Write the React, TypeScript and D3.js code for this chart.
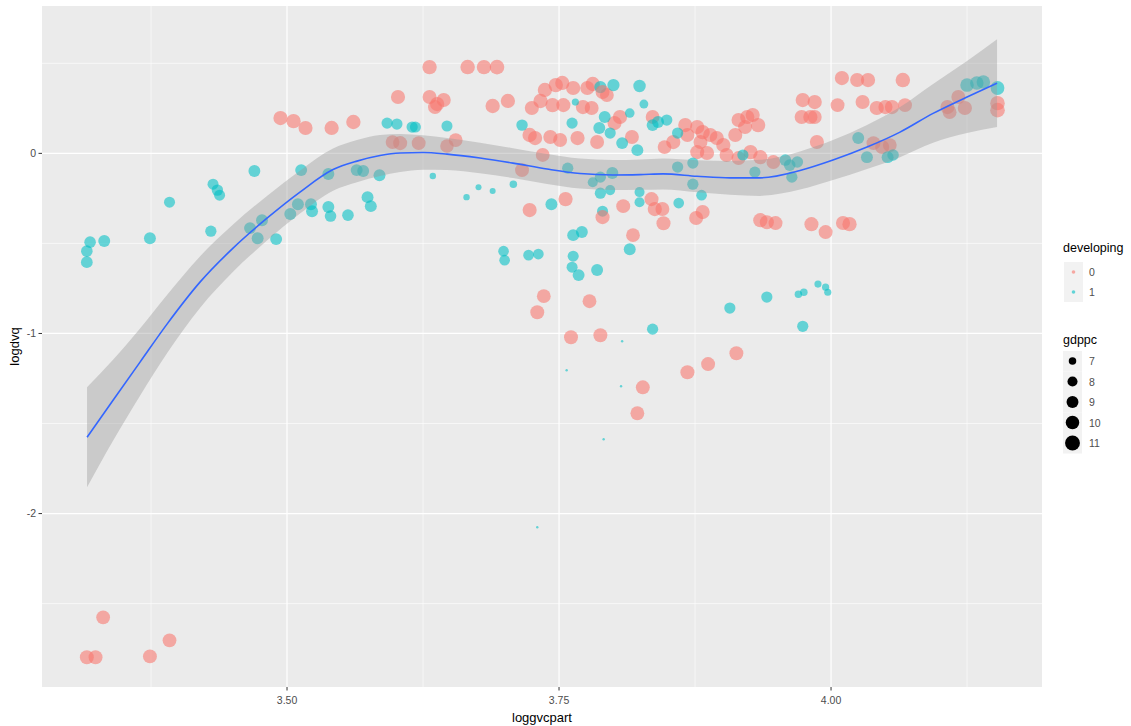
import React from "react";
import * as d3 from "d3";

// ---------- data ----------
// [loggvcpart, logdvq, gdppc]
const developing0: [number, number, number][] = [
  [3.316, -2.798, 10.3], [3.324, -2.798, 10.3], [3.331, -2.576, 10.2], [3.374, -2.793, 10.3], [3.392, -2.704, 10.2],
  [3.494, 0.196, 10.5], [3.506, 0.179, 10.5], [3.517, 0.141, 10.4], [3.541, 0.141, 10.5], [3.561, 0.174, 10.6],
  [3.597, 0.063, 10.2], [3.604, 0.057, 10.4], [3.621, 0.057, 10.3], [3.647, 0.041, 10.0], [3.655, 0.074, 10.2],
  [3.602, 0.313, 10.4], [3.631, 0.479, 10.6], [3.666, 0.479, 10.7], [3.681, 0.479, 10.6], [3.693, 0.479, 10.8],
  [3.631, 0.313, 10.3], [3.638, 0.274, 10.5], [3.644, 0.296, 10.4], [3.636, 0.257, 10.3], [3.689, 0.263, 10.6],
  [3.703, 0.291, 10.5], [3.716, -0.093, 10.3], [3.723, -0.315, 10.4], [3.756, -0.254, 10.5], [3.735, -0.009, 10.2],
  [3.737, 0.352, 10.5], [3.747, 0.379, 10.6], [3.753, 0.391, 10.5], [3.763, 0.363, 10.5], [3.776, 0.363, 10.4],
  [3.781, 0.385, 10.6], [3.725, 0.252, 10.4], [3.733, 0.291, 10.6], [3.744, 0.268, 10.5], [3.754, 0.268, 10.4],
  [3.772, 0.257, 10.5], [3.780, 0.252, 10.3], [3.723, 0.102, 10.6], [3.728, 0.085, 10.5], [3.742, 0.091, 10.4],
  [3.751, 0.074, 10.3], [3.767, 0.085, 10.5], [3.785, 0.063, 10.3], [3.794, 0.324, 10.2], [3.801, 0.168, 10.4],
  [3.806, 0.202, 10.5], [3.817, 0.091, 10.3], [3.836, 0.202, 10.2], [3.847, 0.035, 10.2], [3.855, 0.063, 10.5],
  [3.866, 0.157, 10.4], [3.877, 0.146, 10.5], [3.882, 0.118, 10.6], [3.889, 0.102, 10.5], [3.895, 0.085, 10.4],
  [3.901, 0.046, 10.5], [3.880, 0.063, 10.3], [3.877, 0.007, 10.4], [3.886, 0.002, 10.5], [3.904, -0.009, 10.4],
  [3.868, 0.102, 10.3], [3.915, 0.185, 10.4], [3.923, 0.202, 10.5], [3.928, 0.213, 10.4], [3.933, 0.157, 10.6],
  [3.921, 0.146, 10.3], [3.912, 0.102, 10.4], [3.915, -0.026, 10.3], [3.926, 0.007, 10.5], [3.935, -0.021, 10.4],
  [3.947, -0.048, 10.2], [4.010, 0.418, 10.5], [4.024, 0.407, 10.4], [4.034, 0.407, 10.5], [4.066, 0.407, 10.7],
  [3.974, 0.296, 10.5], [3.985, 0.285, 10.5], [4.006, 0.268, 10.3], [4.029, 0.285, 10.4], [4.042, 0.252, 10.5],
  [4.050, 0.257, 10.4], [4.056, 0.257, 10.5], [4.068, 0.268, 10.3], [3.973, 0.202, 10.4], [3.981, 0.202, 10.5],
  [3.985, 0.202, 10.3], [3.987, 0.063, 10.4], [4.039, 0.057, 10.3], [4.047, 0.035, 10.4], [4.054, 0.046, 10.2],
  [4.107, 0.257, 10.4], [4.117, 0.313, 10.3], [4.123, 0.252, 10.5], [4.109, 0.229, 10.2], [4.153, 0.240, 10.8],
  [4.153, 0.279, 10.7], [3.790, -0.354, 10.4], [3.809, -0.293, 10.3], [3.818, -0.454, 10.2], [3.835, -0.254, 10.4],
  [3.838, -0.309, 10.5], [3.845, -0.309, 10.3], [3.846, -0.388, 10.4], [3.876, -0.359, 10.3], [3.882, -0.326, 10.4],
  [3.935, -0.371, 10.5], [3.941, -0.382, 10.4], [3.949, -0.387, 10.3], [3.982, -0.393, 10.4], [3.995, -0.437, 10.3],
  [4.011, -0.387, 10.4], [4.017, -0.393, 10.5], [3.778, -0.821, 10.2], [3.761, -1.021, 10.3], [3.788, -1.010, 10.3],
  [3.736, -0.793, 10.2], [3.730, -0.882, 10.3], [3.827, -1.299, 10.3], [3.822, -1.443, 10.2], [3.868, -1.215, 10.4],
  [3.887, -1.170, 10.3], [3.913, -1.110, 10.3], [3.790, 0.341, 10.3],
];

const developing1: [number, number, number][] = [
  [3.319, -0.493, 8.8], [3.316, -0.543, 8.8], [3.316, -0.604, 8.9], [3.332, -0.487, 9.0], [3.374, -0.471, 9.0],
  [3.392, -0.271, 8.5], [3.430, -0.432, 8.6], [3.432, -0.171, 8.5], [3.436, -0.204, 8.7], [3.438, -0.232, 8.5],
  [3.470, -0.098, 9.0], [3.466, -0.415, 9.0], [3.477, -0.371, 9.0], [3.473, -0.471, 9.0], [3.490, -0.476, 9.0],
  [3.513, -0.093, 9.0], [3.538, -0.115, 9.0], [3.503, -0.337, 9.0], [3.510, -0.282, 9.0], [3.522, -0.282, 9.0],
  [3.523, -0.321, 9.0], [3.538, -0.298, 9.0], [3.540, -0.348, 8.8], [3.556, -0.343, 8.8], [3.564, -0.093, 9.0],
  [3.570, -0.098, 9.0], [3.574, -0.243, 9.0], [3.577, -0.293, 9.0], [3.585, -0.121, 9.0], [3.592, 0.168, 8.6],
  [3.601, 0.163, 8.6], [3.615, 0.146, 8.6], [3.618, 0.146, 8.5], [3.647, 0.152, 8.5], [3.634, -0.126, 6.7],
  [3.665, -0.243, 6.7], [3.676, -0.188, 6.6], [3.689, -0.209, 6.6], [3.708, -0.171, 7.0], [3.716, 0.157, 8.7],
  [3.743, -0.282, 9.0], [3.763, -0.454, 9.0], [3.771, -0.437, 9.0], [3.699, -0.543, 8.3], [3.700, -0.593, 8.3],
  [3.722, -0.565, 8.3], [3.731, -0.559, 8.3], [3.763, -0.571, 8.5], [3.762, -0.632, 8.5], [3.768, -0.676, 9.0],
  [3.785, -0.648, 9.0], [3.762, 0.168, 8.6], [3.765, 0.285, 6.9], [3.788, 0.368, 9.2], [3.800, 0.379, 9.2],
  [3.824, 0.374, 9.3], [3.828, 0.274, 7.5], [3.792, 0.202, 9.0], [3.787, 0.141, 9.0], [3.797, 0.113, 8.6],
  [3.808, 0.057, 9.0], [3.822, 0.018, 9.0], [3.815, 0.224, 7.8], [3.836, 0.157, 9.0], [3.841, 0.174, 9.0],
  [3.849, 0.185, 8.6], [3.859, 0.113, 8.6], [3.758, -0.082, 8.6], [3.781, -0.160, 8.0], [3.788, -0.221, 8.6],
  [3.797, -0.204, 8.0], [3.799, -0.109, 9.0], [3.788, -0.132, 8.6], [3.824, -0.215, 8.0], [3.824, -0.271, 8.0],
  [3.859, -0.076, 8.6], [3.860, -0.276, 8.3], [3.873, -0.054, 8.6], [3.873, -0.171, 8.6], [3.881, -0.232, 8.3],
  [3.919, -0.009, 8.6], [3.930, -0.104, 8.6], [3.790, -0.321, 8.5], [3.815, -0.532, 9.0], [3.836, -0.976, 8.6],
  [3.907, -0.859, 8.6], [3.941, -0.798, 8.6], [3.974, -0.960, 8.6], [3.970, -0.782, 7.0], [3.975, -0.771, 7.0],
  [3.988, -0.726, 6.9], [3.995, -0.743, 6.9], [3.997, -0.771, 6.9], [3.958, -0.037, 8.8], [3.962, -0.065, 8.8],
  [3.969, -0.048, 8.8], [3.964, -0.132, 8.6], [4.025, 0.085, 9.0], [4.033, -0.021, 9.0], [4.052, -0.021, 9.0],
  [4.057, -0.009, 8.8], [4.125, 0.379, 10.0], [4.134, 0.391, 10.0], [4.140, 0.396, 10.0], [4.153, 0.363, 10.2],
  [3.757, -1.204, 6.2], [3.807, -1.293, 6.2], [3.791, -1.587, 6.2], [3.730, -2.076, 6.2], [3.808, -1.043, 6.2],
];

// loess fit
const smoothX = [3.3162, 3.3401, 3.3649, 3.3897, 3.42, 3.4504, 3.4816, 3.5119, 3.5423, 3.5643, 3.5855, 3.6039, 3.625,
  3.6471, 3.6774, 3.7077, 3.739, 3.7693, 3.7996, 3.8244, 3.8456, 3.8768, 3.9072, 3.9347, 3.9715, 4.0018, 4.0331,
  4.0634, 4.0938, 4.125, 4.1526];
const smoothY = [-1.576, -1.371, -1.159, -0.948, -0.715, -0.526, -0.36, -0.215, -0.09, -0.043, -0.012, 0.002, 0.005,
  -0.004, -0.026, -0.054, -0.087, -0.112, -0.12, -0.118, -0.114, -0.127, -0.136, -0.136, -0.095, -0.037, 0.035,
  0.118, 0.222, 0.313, 0.39];
const smoothSE = [0.278, 0.225, 0.187, 0.162, 0.143, 0.131, 0.124, 0.119, 0.117, 0.117, 0.114, 0.106, 0.096, 0.089,
  0.085, 0.083, 0.083, 0.083, 0.083, 0.084, 0.086, 0.089, 0.094, 0.1, 0.106, 0.111, 0.122, 0.139, 0.163, 0.2, 0.244];

const xTicks = [3.5, 3.75, 4.0];
const xTickLabels = ["3.50", "3.75", "4.00"];
const xMinor = [3.375, 3.625, 3.875, 4.125];
const yTicks = [0, -1, -2];
const yTickLabels = ["0", "-1", "-2"];
const yMinor = [0.5, -0.5, -1.5, -2.5];
const colorLevels = ["0", "1"];
const sizeLevels = [7, 8, 9, 10, 11];

// ---------- layout ----------
const W = 1131, H = 726;
const P = { left: 42, right: 1042, top: 6, bottom: 687 };
const FONT = "'Liberation Sans', Arial, Helvetica, sans-serif";
const RED = "#F8766D", TEAL = "#00BFC4";

export default function App() {
  const x = d3.scaleLinear().domain([3.2748, 4.1939]).range([P.left, P.right]);
  const y = d3.scaleLinear().domain([0.8183, -2.963]).range([P.top, P.bottom]);
  const norm = d3.scaleLinear().domain([6.2, 11.4]).range([0, 1]).clamp(true);
  const rad = d3.scaleLinear().domain([0, 1]).range([1.2, 7.7]);
  const r = (g: number) => rad(Math.sqrt(norm(g)));
  const color = d3.scaleOrdinal<string, string>().domain(colorLevels).range([RED, TEAL]);

  const idx = d3.range(smoothX.length);
  const ribbon = d3.area<number>()
    .x((i) => x(smoothX[i]))
    .y0((i) => y(smoothY[i] - smoothSE[i]))
    .y1((i) => y(smoothY[i] + smoothSE[i]))
    .curve(d3.curveMonotoneX);
  const line = d3.line<number>()
    .x((i) => x(smoothX[i]))
    .y((i) => y(smoothY[i]))
    .curve(d3.curveMonotoneX);

  // interleave points so colours overlap as in the original
  const pts: { x: number; y: number; g: number; c: string }[] = [];
  const n = Math.max(developing0.length, developing1.length);
  for (let i = 0; i < n; i++) {
    if (i < developing0.length) pts.push({ x: developing0[i][0], y: developing0[i][1], g: developing0[i][2], c: "0" });
    if (i < developing1.length) pts.push({ x: developing1[i][0], y: developing1[i][1], g: developing1[i][2], c: "1" });
  }

  const legX = 1063;
  const keyW = 19;

  return (
    <svg width={W} height={H} style={{ position: "absolute", left: 0, top: 0, background: "#fff" }} fontFamily={FONT}>
      <rect x={P.left} y={P.top} width={P.right - P.left} height={P.bottom - P.top} fill="#EBEBEB" />
      {xMinor.map((v) => (
        <line key={"xm" + v} x1={x(v)} x2={x(v)} y1={P.top} y2={P.bottom} stroke="#fff" strokeWidth={0.6} />
      ))}
      {yMinor.map((v) => (
        <line key={"ym" + v} y1={y(v)} y2={y(v)} x1={P.left} x2={P.right} stroke="#fff" strokeWidth={0.6} />
      ))}
      {xTicks.map((v) => (
        <line key={"xM" + v} x1={x(v)} x2={x(v)} y1={P.top} y2={P.bottom} stroke="#fff" strokeWidth={1.2} />
      ))}
      {yTicks.map((v) => (
        <line key={"yM" + v} y1={y(v)} y2={y(v)} x1={P.left} x2={P.right} stroke="#fff" strokeWidth={1.2} />
      ))}

      {pts.map((p, i) => (
        <circle key={i} cx={x(p.x)} cy={y(p.y)} r={r(p.g)} fill={color(p.c)} fillOpacity={0.58} />
      ))}

      <path d={ribbon(idx) || ""} fill="#999999" fillOpacity={0.4} />
      <path d={line(idx) || ""} fill="none" stroke="#3366FF" strokeWidth={1.6} />

      {/* axes */}
      {xTicks.map((v, i) => (
        <g key={"xt" + v}>
          <line x1={x(v)} x2={x(v)} y1={P.bottom} y2={P.bottom + 3.5} stroke="#333" strokeWidth={1} />
          <text x={x(v)} y={P.bottom + 17} textAnchor="middle" fontSize={10.5} fill="#4D4D4D">{xTickLabels[i]}</text>
        </g>
      ))}
      {yTicks.map((v, i) => (
        <g key={"yt" + v}>
          <line x1={P.left - 3.5} x2={P.left} y1={y(v)} y2={y(v)} stroke="#333" strokeWidth={1} />
          <text x={P.left - 6} y={y(v) + 3.8} textAnchor="end" fontSize={10.5} fill="#4D4D4D">{yTickLabels[i]}</text>
        </g>
      ))}
      <text x={(P.left + P.right) / 2} y={722} textAnchor="middle" fontSize={13} fill="#000">loggvcpart</text>
      <text transform={`translate(19,${(P.top + P.bottom) / 2}) rotate(-90)`} textAnchor="middle" fontSize={13} fill="#000">logdvq</text>

      {/* legend: developing */}
      <text x={legX} y={252} fontSize={12.5} fill="#000">developing</text>
      {colorLevels.map((c, i) => (
        <g key={"lc" + c}>
          <rect x={legX + 1} y={262 + i * 20} width={keyW} height={20} fill="#F2F2F2" />
          <circle cx={legX + 1 + keyW / 2} cy={272 + i * 20} r={1.8} fill={color(c)} fillOpacity={0.6} />
          <text x={legX + 26} y={276 + i * 20} fontSize={10.5} fill="#4D4D4D">{c}</text>
        </g>
      ))}

      {/* legend: gdppc */}
      <text x={legX} y={344} fontSize={12.5} fill="#000">gdppc</text>
      {sizeLevels.map((s, i) => (
        <g key={"ls" + s}>
          <rect x={legX} y={351 + i * 20.5} width={keyW} height={20.5} fill="#F2F2F2" />
          <circle cx={legX + keyW / 2} cy={361 + i * 20.5} r={r(s)} fill="#000" />
          <text x={legX + 26} y={365 + i * 20.5} fontSize={10.5} fill="#4D4D4D">{s}</text>
        </g>
      ))}
    </svg>
  );
}
